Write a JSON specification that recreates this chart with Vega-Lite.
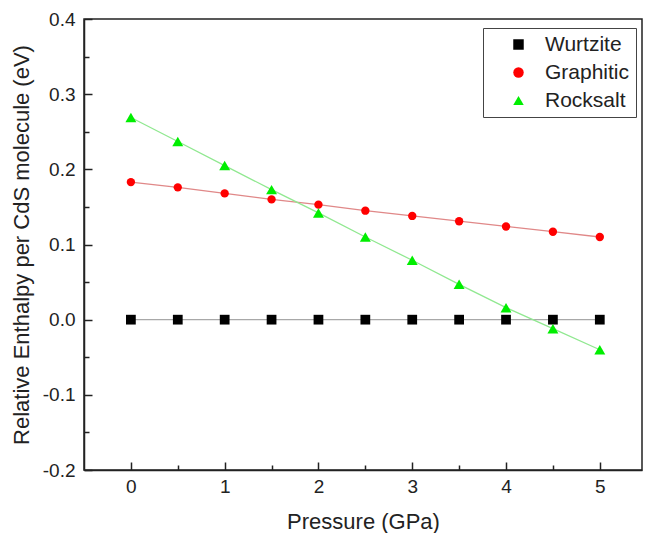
{
  "$schema": "https://vega.github.io/schema/vega-lite/v6.json",
  "width": 558,
  "height": 451,
  "autosize": {"type": "none"},
  "padding": {"left": 84, "top": 19, "right": 5, "bottom": 63},
  "background": "white",
  "config": {
    "font": "Liberation Sans",
    "view": {"stroke": "#222", "strokeWidth": 1.5},
    "axis": {
      "grid": false,
      "domainColor": "#222",
      "domainWidth": 1.5,
      "tickColor": "#222",
      "tickWidth": 1.5,
      "labelFont": "Liberation Sans",
      "titleFont": "Liberation Sans",
      "labelFontSize": 19,
      "titleFontSize": 22,
      "labelColor": "#222",
      "titleColor": "#222",
      "titleFontWeight": "normal"
    },
    "legend": {
      "labelFont": "Liberation Sans",
      "labelFontSize": 21,
      "labelColor": "#222"
    }
  },
  "data": {
    "values": [
      {"p": 0, "h": 0, "s": "Wurtzite"},
      {"p": 0.5, "h": 0, "s": "Wurtzite"},
      {"p": 1, "h": 0, "s": "Wurtzite"},
      {"p": 1.5, "h": 0, "s": "Wurtzite"},
      {"p": 2, "h": 0, "s": "Wurtzite"},
      {"p": 2.5, "h": 0, "s": "Wurtzite"},
      {"p": 3, "h": 0, "s": "Wurtzite"},
      {"p": 3.5, "h": 0, "s": "Wurtzite"},
      {"p": 4, "h": 0, "s": "Wurtzite"},
      {"p": 4.5, "h": 0, "s": "Wurtzite"},
      {"p": 5, "h": 0, "s": "Wurtzite"},
      {"p": 0, "h": 0.183, "s": "Graphitic"},
      {"p": 0.5, "h": 0.176, "s": "Graphitic"},
      {"p": 1, "h": 0.168, "s": "Graphitic"},
      {"p": 1.5, "h": 0.160, "s": "Graphitic"},
      {"p": 2, "h": 0.153, "s": "Graphitic"},
      {"p": 2.5, "h": 0.145, "s": "Graphitic"},
      {"p": 3, "h": 0.138, "s": "Graphitic"},
      {"p": 3.5, "h": 0.131, "s": "Graphitic"},
      {"p": 4, "h": 0.124, "s": "Graphitic"},
      {"p": 4.5, "h": 0.117, "s": "Graphitic"},
      {"p": 5, "h": 0.110, "s": "Graphitic"},
      {"p": 0, "h": 0.269, "s": "Rocksalt"},
      {"p": 0.5, "h": 0.237, "s": "Rocksalt"},
      {"p": 1, "h": 0.205, "s": "Rocksalt"},
      {"p": 1.5, "h": 0.173, "s": "Rocksalt"},
      {"p": 2, "h": 0.142, "s": "Rocksalt"},
      {"p": 2.5, "h": 0.110, "s": "Rocksalt"},
      {"p": 3, "h": 0.079, "s": "Rocksalt"},
      {"p": 3.5, "h": 0.047, "s": "Rocksalt"},
      {"p": 4, "h": 0.016, "s": "Rocksalt"},
      {"p": 4.5, "h": -0.012, "s": "Rocksalt"},
      {"p": 5, "h": -0.040, "s": "Rocksalt"}
    ]
  },
  "encoding": {
    "x": {
      "field": "p", "type": "quantitative",
      "scale": {"domain": [-0.5, 5.45], "nice": false, "zero": false},
      "axis": {
        "title": "Pressure (GPa)",
        "values": [0, 0.5, 1, 1.5, 2, 2.5, 3, 3.5, 4, 4.5, 5],
        "labelExpr": "datum.value % 1 === 0 ? format(datum.value, 'd') : ''",
        "tickSize": {"condition": {"test": "datum.value % 1 === 0", "value": -8}, "value": -5},
        "labelPadding": 15,
        "titlePadding": 15
      }
    },
    "y": {
      "field": "h", "type": "quantitative",
      "scale": {"domain": [-0.2, 0.4], "nice": false, "zero": false},
      "axis": {
        "title": "Relative Enthalpy per CdS molecule (eV)",
        "values": [-0.2, -0.15, -0.1, -0.05, 0, 0.05, 0.1, 0.15, 0.2, 0.25, 0.3, 0.35, 0.4],
        "labelExpr": "abs(datum.value*10 - round(datum.value*10)) < 0.001 ? replace(format(datum.value, '.1f'), '\u2212', '-') : ''",
        "tickSize": {"condition": {"test": "abs(datum.value*10 - round(datum.value*10)) < 0.001", "value": -8}, "value": -5},
        "labelPadding": 17,
        "titlePadding": 9
      }
    }
  },
  "layer": [
    {
      "mark": {"type": "line", "strokeWidth": 1.3},
      "encoding": {
        "stroke": {
          "field": "s", "type": "nominal",
          "scale": {"domain": ["Graphitic", "Rocksalt", "Wurtzite"], "range": ["#e08888", "#90e890", "#a8a8a8"]},
          "legend": null
        }
      }
    },
    {
      "mark": {"type": "point", "filled": true, "opacity": 1},
      "encoding": {
        "size": {
          "field": "s", "type": "nominal",
          "scale": {"domain": ["Rocksalt", "Wurtzite", "Graphitic"], "range": [120, 70, 100]},
          "legend": null
        },
        "fill": {
          "field": "s", "type": "nominal",
          "scale": {"domain": ["Wurtzite", "Graphitic", "Rocksalt"], "range": ["#000000", "#ff0000", "#00ee00"]},
          "legend": {
            "title": null,
            "orient": "none",
            "legendX": 399,
            "legendY": 9,
            "strokeColor": "#444",
            "padding": 6,
            "symbolSize": 110,
            "symbolOffset": 19,
            "rowPadding": 6,
            "labelOffset": 16
          }
        },
        "shape": {
          "field": "s", "type": "nominal",
          "scale": {"domain": ["Wurtzite", "Graphitic", "Rocksalt"], "range": ["square", "circle", "triangle-up"]},
          "legend": {
            "title": null,
            "orient": "none",
            "legendX": 399,
            "legendY": 9,
            "strokeColor": "#444",
            "padding": 6,
            "symbolSize": 110,
            "symbolOffset": 19,
            "rowPadding": 6,
            "labelOffset": 16
          }
        }
      }
    }
  ]
}
